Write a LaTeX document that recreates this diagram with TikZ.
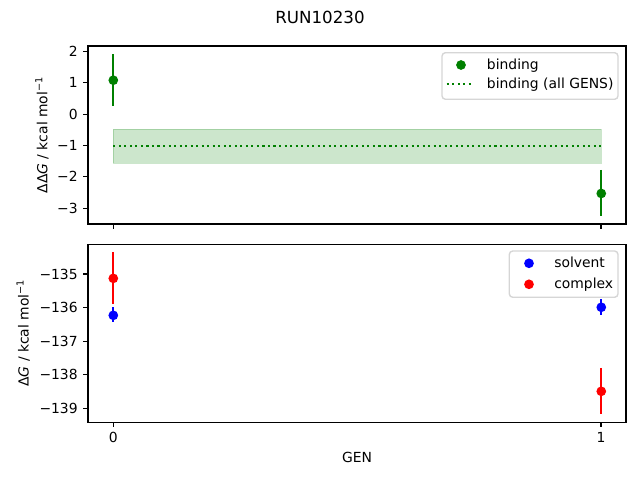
\documentclass[tikz,border=0pt]{standalone}
\usepackage{fontspec}
\setmainfont{DejaVu Sans}
\definecolor{mgreen}{HTML}{008000}
\definecolor{mblue}{HTML}{0000FF}
\definecolor{mred}{HTML}{FF0000}
\definecolor{legframe}{HTML}{CCCCCC}
\tikzset{
  spine/.style={line width=0.8bp},
  tickmark/.style={line width=0.8bp},
  ticklab/.style={font=\fontsize{10bp}{12bp}\selectfont, inner sep=0pt},
  errbar/.style={line width=1.5bp},
  mdotted/.style={line width=1.5bp, dash pattern=on 1.5bp off 2.475bp},
  legbox/.style={draw=legframe, fill=white, fill opacity=0.8, draw opacity=0.8, line width=1bp, rounded corners=2.5bp},
  legtext/.style={ticklab, anchor=base west},
}
\begin{document}
\begin{tikzpicture}[x=0.01in, y=-0.01in]
   \useasboundingbox (0,0) rectangle (640,480);
   %titolo
   \node[font=\fontsize{12bp}{14bp}\selectfont] (title) at (320,17) {RUN10230};
   %assi sopra
   \draw[spine] (88,46) rectangle (626,224);
   \foreach \v/\lab in {2/2,1/1,0/0,-1/−1,-2/−2,-3/−3}
      \draw[tickmark] (88,{114.1-31.35*\v}) -- ++(-4.9,0) node[ticklab, anchor=east, xshift=-3.5bp] (ytop\v) {\lab};
   \foreach \g in {0,1}
      \draw[tickmark] ({113.3+487.7*\g},224) -- ++(0,4.9);
   \node[ticklab, rotate=90] (ylabtop) at (42,135) {ΔΔ\textit{G} / kcal mol\textsuperscript{−1}};
   %dati sopra
   \begin{scope}[shift={(113.3,114.1)}, x=4.877in, y=0.3135in]
      \filldraw[mgreen, fill opacity=0.2, draw opacity=0.2] (0,-0.47) rectangle (1,-1.57);
      \draw[mgreen, mdotted] (0,-1.01) -- (1,-1.01);
      \draw[errbar, mgreen] (0,0.26) -- (0,1.91);
      \fill[mgreen] (0,1.08) circle[radius=3.5bp];
      \draw[errbar, mgreen] (1,-1.78) -- (1,-3.24);
      \fill[mgreen] (1,-2.53) circle[radius=3.5bp];
   \end{scope}
   %legenda sopra
   \draw[legbox] (442,52.7) rectangle (618,99.3);
   \fill[mgreen] (461,65) circle[radius=3.5bp];
   \node[legtext] (lbind) at (486.7,69.4) {binding};
   \draw[mgreen, mdotted] (446.7,84) -- (474,84);
   \node[legtext] (lall) at (486.7,88.4) {binding (all GENS)};
   %assi sotto
   \draw[spine] (88,244.3) rectangle (626,422.3);
   \foreach \k/\lab in {0/−135,1/−136,2/−137,3/−138,4/−139}
      \draw[tickmark] (88,{274+33.6*\k}) -- ++(-4.9,0) node[ticklab, anchor=east, xshift=-3.5bp] (ybot\k) {\lab};
   \foreach \g in {0,1}
      \draw[tickmark] ({113.3+487.7*\g},422.3) -- ++(0,4.9) node[ticklab, anchor=north, yshift=-3.5bp] (xt\g) {\g};
   \node[ticklab, rotate=90] (ylabbot) at (23.3,333) {Δ\textit{G} / kcal mol\textsuperscript{−1}};
   \node[ticklab] (xlab) at (357,457) {GEN};
   %dati sotto
   \begin{scope}[shift={(113.3,274)}, x=4.877in, y=0.336in]
      \draw[errbar, mred] (0,0.66) -- (0,-0.90);
      \fill[mred] (0,-0.13) circle[radius=3.5bp];
      \draw[errbar, mblue] (0,-0.99) -- (0,-1.43);
      \fill[mblue] (0,-1.23) circle[radius=3.5bp];
      \draw[errbar, mblue] (1,-0.75) -- (1,-1.22);
      \fill[mblue] (1,-0.99) circle[radius=3.5bp];
      \draw[errbar, mred] (1,-2.79) -- (1,-4.16);
      \fill[mred] (1,-3.49) circle[radius=3.5bp];
   \end{scope}
   %legenda sotto
   \draw[legbox] (509.3,251) rectangle (618,297.3);
   \fill[mblue] (529,263.3) circle[radius=3.5bp];
   \node[legtext] (lsolv) at (554,267.7) {solvent};
   \fill[mred] (529,284.3) circle[radius=3.5bp];
   \node[legtext] (lcompl) at (554,288.7) {complex};
\end{tikzpicture}
\end{document}
